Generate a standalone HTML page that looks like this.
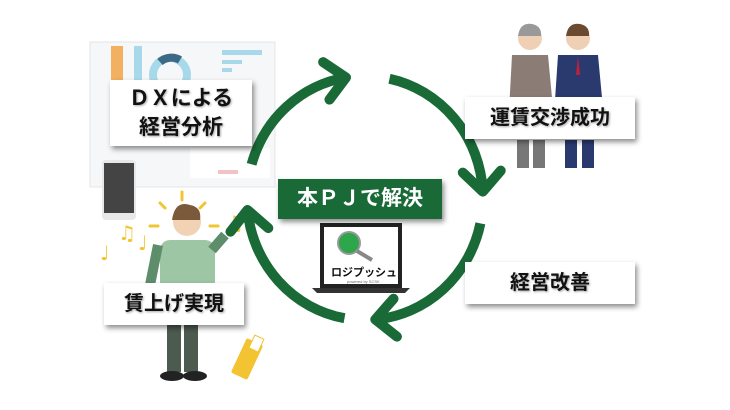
<!DOCTYPE html>
<html><head><meta charset="utf-8"><style>
html,body{margin:0;padding:0;background:#fff}
body{width:730px;height:410px;position:relative;overflow:hidden;font-family:"Liberation Sans","Noto Sans CJK JP",sans-serif}
.lbl{position:absolute;background:#fff;box-shadow:2px 3px 5px rgba(0,0,0,.45);display:flex;align-items:center;justify-content:center;font-weight:bold;color:#111;text-shadow:1px 1px 2px rgba(0,0,0,.35);font-size:20px;line-height:26px;text-align:center}
</style></head><body>
<svg width="730" height="410" style="position:absolute;left:0;top:0">
<defs>
<marker id="ch" markerUnits="userSpaceOnUse" markerWidth="70" markerHeight="70" refX="0" refY="0" viewBox="-35 -35 70 70" orient="auto">
<path d="M-20,-19 L0,0 L-20,19" fill="none" stroke="#1a6a37" stroke-width="10" stroke-linecap="round" stroke-linejoin="round"/>
</marker>
</defs>
<rect x="90" y="42" width="185" height="145" fill="#f6f7f8" stroke="#e3e5e8"/>
<rect x="111" y="46" width="12" height="60" fill="#f3b060"/>
<rect x="134" y="46" width="8" height="60" fill="#a8d9ea"/>
<circle cx="170" cy="75" r="17" fill="none" stroke="#a8d9ea" stroke-width="8"/>
<path d="M160,62 A17,17 0 0 1 180,60" fill="none" stroke="#3c6a85" stroke-width="8"/>
<rect x="222" y="50" width="40" height="5" fill="#a8d9ea"/>
<rect x="222" y="60" width="20" height="4" fill="#a8d9ea"/>
<rect x="222" y="68" width="10" height="4" fill="#a8d9ea"/>
<rect x="190" y="148" width="80" height="30" fill="#fff"/>
<rect x="218" y="170" width="20" height="4" fill="#f3c3c3"/>
<rect x="102" y="160" width="34" height="60" rx="4" fill="#e8e8e8"/>
<rect x="104" y="163" width="30" height="50" fill="#444"/>
<g stroke="#f2c431" stroke-width="3" stroke-linecap="round">
<line x1="182" y1="192" x2="182" y2="200"/><line x1="160" y1="203" x2="165" y2="208"/><line x1="205" y1="203" x2="200" y2="208"/>
<line x1="150" y1="226" x2="158" y2="226"/><line x1="210" y1="226" x2="218" y2="226"/><line x1="200" y1="248" x2="207" y2="254"/>
</g>
<g fill="#f2c431" font-size="20" font-family="DejaVu Sans"><text x="118" y="240">♫</text><text x="100" y="260">♩</text><text x="138" y="250">♩</text><text x="226" y="230">♫</text></g>
<rect x="160" y="240" width="55" height="55" rx="10" fill="#9cc6a4"/>
<path d="M158,245 L150,285" stroke="#5d8d6a" stroke-width="10"/>
<path d="M212,250 L225,235" stroke="#5d8d6a" stroke-width="10"/>
<circle cx="187" cy="222" r="14" fill="#f1d2b5"/>
<path d="M172,220 Q175,200 190,205 Q202,207 200,220 Z" fill="#7a5a3a"/>
<rect x="167" y="322" width="14" height="50" fill="#4d5a50"/><rect x="184" y="322" width="14" height="50" fill="#4d5a50"/>
<ellipse cx="172" cy="376" rx="12" ry="5" fill="#222"/><ellipse cx="195" cy="376" rx="12" ry="5" fill="#222"/>
<rect x="238" y="340" width="18" height="38" rx="2" fill="#f2c431" transform="rotate(25 247 359)"/>
<rect x="244" y="334" width="10" height="14" fill="#fff" stroke="#f2c431" transform="rotate(25 247 359)"/>
<circle cx="530" cy="38" r="12" fill="#f0d0b5"/><path d="M518,36 Q520,22 532,24 Q542,26 541,36 Z" fill="#999"/>
<path d="M512,55 L548,55 L555,130 L508,130 Z" fill="#8b7d75"/>
<rect x="517" y="140" width="12" height="28" fill="#777"/><rect x="533" y="140" width="12" height="28" fill="#777"/>
<circle cx="578" cy="38" r="12" fill="#f0d0b5"/><path d="M566,36 Q568,22 580,24 Q590,26 589,36 Z" fill="#6b4a30"/>
<path d="M558,55 L598,55 L605,130 L553,130 Z" fill="#2a3a6e"/>
<path d="M578,56 L576,75 L580,75 Z" fill="#c0203a"/>
<rect x="565" y="140" width="12" height="28" fill="#2a3a6e"/><rect x="582" y="140" width="12" height="28" fill="#2a3a6e"/>
<rect x="320" y="223" width="82" height="65" fill="#222"/>
<rect x="324" y="227" width="74" height="57" fill="#fff"/>
<path d="M312,288 L410,288 L405,293 L317,293 Z" fill="#333"/>
<circle cx="349" cy="243" r="11" fill="#2ea64c" stroke="#999" stroke-width="2"/>
<line x1="357" y1="251" x2="372" y2="260" stroke="#888" stroke-width="4"/>
<text x="331" y="276" font-size="11" font-weight="bold" fill="#111" font-family="Liberation Sans,Noto Sans CJK JP,sans-serif">ロジプッシュ</text>
<text x="347" y="283" font-size="4" fill="#666">powered by SCSK</text>
<g fill="none" stroke="#1a6a37" stroke-width="10" stroke-linecap="butt">
<path d="M251.6,164.3 A118,122 0 0 1 346,77.5" marker-end="url(#ch)"/>
<path d="M389.5,78.7 A118,122 0 0 1 482.8,191.6" marker-end="url(#ch)"/>
<path d="M480.4,223.4 A118,122 0 0 1 375.3,319.5" marker-end="url(#ch)"/>
<path d="M344.5,318.2 A118,122 0 0 1 247.5,210" marker-end="url(#ch)"/>
</g>
</svg>
<div class="lbl" style="left:110px;top:80px;width:142px;height:66px;font-size:21px;line-height:29px">ＤＸによる<br>経営分析</div>
<div class="lbl" style="left:465px;top:97px;width:170px;height:42px">運賃交渉成功</div>
<div class="lbl" style="left:465px;top:262px;width:170px;height:42px">経営改善</div>
<div class="lbl" style="left:104px;top:283px;width:140px;height:42px">賃上げ実現</div>
<div class="lbl" style="left:278px;top:179px;width:164px;height:40px;background:#1a6a37;color:#fff;text-shadow:none;font-size:21px">本ＰＪで解決</div>
</body></html>
